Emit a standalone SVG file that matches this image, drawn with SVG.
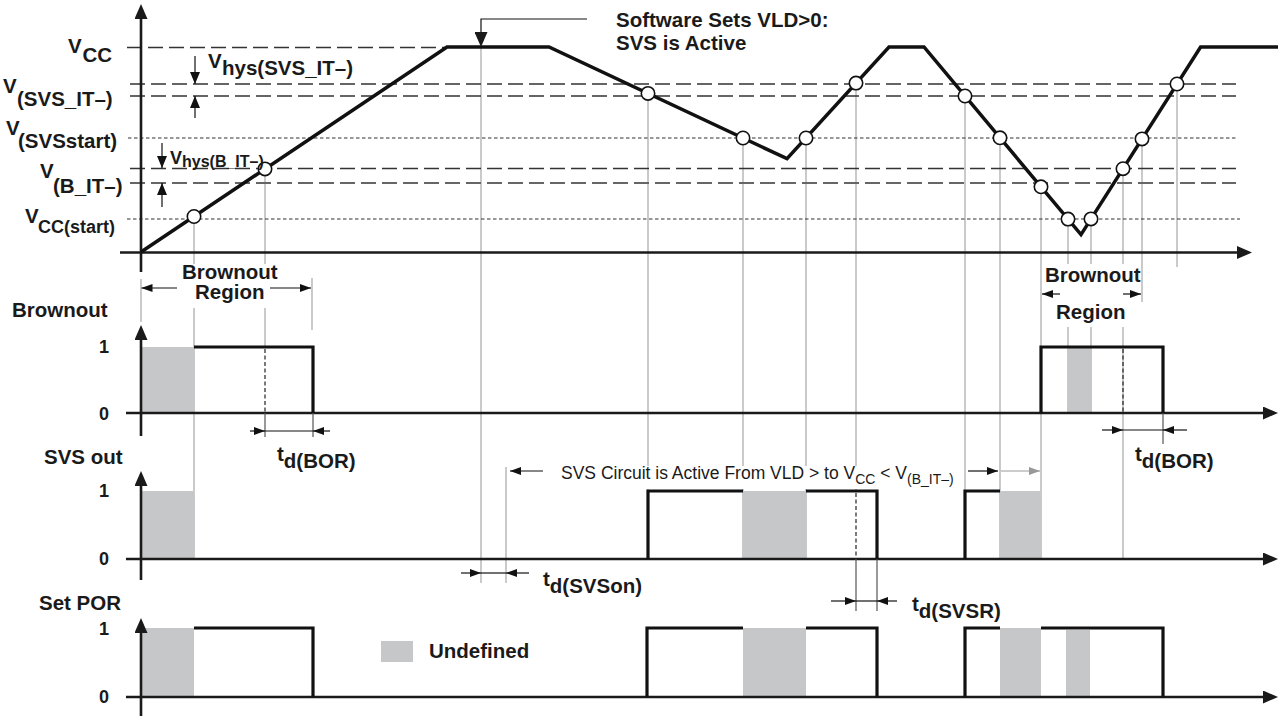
<svg xmlns="http://www.w3.org/2000/svg" width="1278" height="716" viewBox="0 0 1278 716">
<style>
.lb{font-family:"Liberation Sans",Arial,sans-serif;font-weight:bold;font-size:20.5px;fill:#1a1a1a}
.dg{font-family:"Liberation Sans",Arial,sans-serif;font-weight:bold;font-size:18px;fill:#1a1a1a;text-anchor:middle}
.rg{font-family:"Liberation Sans",Arial,sans-serif;font-size:17.5px;fill:#1a1a1a}
.ax{stroke:#1a1a1a;stroke-width:2.6;fill:none}
.sig{stroke:#111;stroke-width:3.2;fill:none;stroke-linejoin:miter}
.wave{stroke:#111;stroke-width:3.5;fill:none;stroke-linejoin:miter}
.gl{stroke:#c9cacc;stroke-width:2}
.ext{stroke:#555;stroke-width:1.2}
.dim{stroke:#111;stroke-width:1.2;fill:none}
.dsh{stroke:#333;stroke-width:1.3;stroke-dasharray:15 6}
.dsh2{stroke:#666;stroke-width:1.8;stroke-dasharray:15 6}
.dot{stroke:#333;stroke-width:1.1;stroke-dasharray:3.5 2.5}
.vd{stroke:#222;stroke-width:1.2;stroke-dasharray:4 2.5}
.und{fill:#c6c7c9}
.pt{fill:#fff;stroke:#111;stroke-width:1.6}
.bg{fill:#fff}
</style>
<defs>
<marker id="axh" viewBox="0 0 15 13" refX="7" refY="6.5" markerWidth="15" markerHeight="13" markerUnits="userSpaceOnUse" orient="auto"><path d="M0,0L15,6.5L0,13z" fill="#1a1a1a"/></marker>
<marker id="ah" viewBox="0 0 11 8" refX="11" refY="4" markerWidth="11" markerHeight="8" markerUnits="userSpaceOnUse" orient="auto"><path d="M0,0L11,4L0,8z" fill="#111"/></marker>
<marker id="ahg" viewBox="0 0 11 8" refX="11" refY="4" markerWidth="11" markerHeight="8" markerUnits="userSpaceOnUse" orient="auto"><path d="M0,0L11,4L0,8z" fill="#999"/></marker>
<marker id="hy" viewBox="0 0 12 10" refX="12" refY="5" markerWidth="12" markerHeight="10" markerUnits="userSpaceOnUse" orient="auto"><path d="M0,0L12,5L0,10z" fill="#111"/></marker>
</defs>

<g id="guides">
<line class="gl" x1="141" y1="279" x2="141" y2="322"/>
<line class="gl" x1="194" y1="217" x2="194" y2="559"/>
<line class="gl" x1="265" y1="169" x2="265" y2="347"/>
<line class="gl" x1="312" y1="278" x2="312" y2="330"/>
<line class="gl" x1="481" y1="47" x2="481" y2="583"/>
<line class="gl" x1="506" y1="467" x2="506" y2="583"/>
<line class="gl" x1="648" y1="93" x2="648" y2="559"/>
<line class="gl" x1="743" y1="138" x2="743" y2="559"/>
<line class="gl" x1="806" y1="138" x2="806" y2="559"/>
<line class="gl" x1="856" y1="83" x2="856" y2="491"/>
<line class="gl" x1="965" y1="96" x2="965" y2="559"/>
<line class="gl" x1="1000" y1="138" x2="1000" y2="559"/>
<line class="gl" x1="1041" y1="187" x2="1041" y2="559"/>
<line class="gl" x1="1068" y1="219" x2="1068" y2="413"/>
<line class="gl" x1="1091" y1="219" x2="1091" y2="413"/>
<line class="gl" x1="1123" y1="169" x2="1123" y2="559"/>
<line class="gl" x1="1142" y1="139" x2="1142" y2="302"/>
<line class="gl" x1="1177" y1="84" x2="1177" y2="267"/>
</g>

<g id="levels">
<line class="dsh" x1="127" y1="47.5" x2="447" y2="47.5"/>
<line class="dsh" x1="130" y1="84" x2="1236" y2="84"/>
<line class="dsh" x1="130" y1="96" x2="1236" y2="96"/>
<line class="dot" x1="128" y1="138" x2="1238" y2="138"/>
<line class="dsh" x1="130" y1="168.5" x2="1236" y2="168.5"/>
<line class="dsh2" x1="130" y1="183" x2="1236" y2="183"/>
<line class="dot" x1="127" y1="219" x2="1240" y2="219"/>
</g>

<g id="label-backgrounds">
<rect class="bg" x="178" y="264" width="96" height="44"/>
<rect class="bg" x="1044" y="264" width="95" height="63"/>
<rect class="bg" x="548" y="466" width="412" height="23"/>
</g>

<g id="undefined-regions">
<rect class="und" x="141" y="347" width="53" height="66"/>
<rect class="und" x="1068" y="347" width="24" height="66"/>
<rect class="und" x="141" y="491" width="53" height="68"/>
<rect class="und" x="743" y="491" width="63" height="68"/>
<rect class="und" x="1000" y="491" width="41" height="68"/>
<rect class="und" x="141" y="628" width="53" height="69"/>
<rect class="und" x="743" y="628" width="63" height="69"/>
<rect class="und" x="1000" y="628" width="41" height="69"/>
<rect class="und" x="1066" y="630" width="24" height="67"/>
</g>

<g id="axes">
<line class="ax" x1="141" y1="272" x2="141" y2="12" marker-end="url(#axh)"/>
<line class="ax" x1="120" y1="252.5" x2="1244" y2="252.5" marker-end="url(#axh)"/>
<line class="ax" x1="141" y1="436" x2="141" y2="333" marker-end="url(#axh)"/>
<line class="ax" x1="126" y1="413" x2="1270" y2="413" marker-end="url(#axh)"/>
<line class="ax" x1="141" y1="580" x2="141" y2="479" marker-end="url(#axh)"/>
<line class="ax" x1="126" y1="559" x2="1270" y2="559" marker-end="url(#axh)"/>
<line class="ax" x1="141" y1="716" x2="141" y2="626" marker-end="url(#axh)"/>
<line class="ax" x1="126" y1="697" x2="1270" y2="697" marker-end="url(#axh)"/>
</g>

<g id="vcc-waveform">
<polyline class="wave" points="141,252 447,47 549,47 787,158.7 889,47 924,47 1081,234.6 1200.6,47 1278,47"/>
<circle class="pt" cx="194" cy="216.5" r="6.7"/>
<circle class="pt" cx="265" cy="168.9" r="6.7"/>
<circle class="pt" cx="648" cy="93.4" r="6.7"/>
<circle class="pt" cx="743" cy="138" r="6.7"/>
<circle class="pt" cx="806" cy="138" r="6.7"/>
<circle class="pt" cx="856" cy="83.1" r="6.7"/>
<circle class="pt" cx="965" cy="96" r="6.7"/>
<circle class="pt" cx="1000" cy="137.8" r="6.7"/>
<circle class="pt" cx="1041" cy="186.8" r="6.7"/>
<circle class="pt" cx="1068" cy="219.1" r="6.7"/>
<circle class="pt" cx="1091" cy="218.9" r="6.7"/>
<circle class="pt" cx="1123" cy="168.7" r="6.7"/>
<circle class="pt" cx="1142" cy="138.9" r="6.7"/>
<circle class="pt" cx="1177" cy="84" r="6.7"/>
</g>

<g id="signals">
<path class="sig" d="M194,347H313V413"/>
<path class="sig" d="M1041,413V347H1163V413"/>
<path class="sig" d="M648,559V491H743"/>
<path class="sig" d="M806,491H877V559"/>
<path class="sig" d="M965,559V491H1000"/>
<path class="sig" d="M194,628H313V697"/>
<path class="sig" d="M647,697V628H743"/>
<path class="sig" d="M806,628H877V697"/>
<path class="sig" d="M965,697V628H1000"/>
<path class="sig" d="M1041,628H1163V697"/>
<line class="vd" x1="265" y1="349" x2="265" y2="413"/>
<line class="vd" x1="1123" y1="349" x2="1123" y2="413"/>
<line class="vd" x1="856" y1="493" x2="856" y2="559"/>
</g>

<g id="connectors">
<path class="dim" d="M587,19H481V39" marker-end="url(#axh)"/>
<line class="dim" x1="195" y1="56" x2="195" y2="84" marker-end="url(#hy)"/>
<line class="dim" x1="195" y1="118" x2="195" y2="96" marker-end="url(#hy)"/>
<line class="dim" x1="162" y1="143" x2="162" y2="168" marker-end="url(#hy)"/>
<line class="dim" x1="162" y1="207" x2="162" y2="183" marker-end="url(#hy)"/>
<line class="dim" x1="177" y1="288" x2="141.5" y2="288" marker-end="url(#ah)"/>
<line class="dim" x1="270" y1="288" x2="311" y2="288" marker-end="url(#ah)"/>
<line class="dim" x1="1060" y1="294" x2="1042" y2="294" marker-end="url(#ah)"/>
<line class="dim" x1="1123" y1="294" x2="1141" y2="294" marker-end="url(#ah)"/>
<line class="ext" x1="265" y1="413" x2="265" y2="437"/>
<line class="ext" x1="313" y1="413" x2="313" y2="437"/>
<line class="dim" x1="250" y1="431" x2="265" y2="431" marker-end="url(#ah)"/>
<line class="dim" x1="330" y1="431" x2="313" y2="431" marker-end="url(#ah)"/>
<line class="dim" x1="265" y1="431" x2="313" y2="431"/>
<line class="ext" x1="1163" y1="413" x2="1163" y2="444"/>
<line class="dim" x1="1102" y1="430" x2="1123" y2="430" marker-end="url(#ah)"/>
<line class="dim" x1="1187" y1="430" x2="1163" y2="430" marker-end="url(#ah)"/>
<line class="dim" x1="1123" y1="430" x2="1163" y2="430"/>
<line class="dim" x1="543" y1="471" x2="510" y2="471" marker-end="url(#ah)"/>
<line class="dim" x1="968" y1="471" x2="998" y2="471" marker-end="url(#ah)"/>
<line x1="1001" y1="471" x2="1040" y2="471" stroke="#999" stroke-width="1.2" marker-end="url(#ahg)"/>
<line class="dim" x1="461" y1="573" x2="481" y2="573" marker-end="url(#ah)"/>
<line class="dim" x1="529" y1="573" x2="506" y2="573" marker-end="url(#ah)"/>
<line class="dim" x1="481" y1="573" x2="506" y2="573"/>
<line class="ext" x1="856" y1="559" x2="856" y2="611"/>
<line class="ext" x1="877" y1="559" x2="877" y2="611"/>
<line class="dim" x1="831" y1="601" x2="856" y2="601" marker-end="url(#ah)"/>
<line class="dim" x1="897" y1="601" x2="877" y2="601" marker-end="url(#ah)"/>
<line class="dim" x1="856" y1="601" x2="877" y2="601"/>
</g>

<g id="level-labels">
<text class="lb"><tspan x="68" y="53">V</tspan><tspan x="82.5" y="62">CC</tspan></text>
<text class="lb"><tspan x="3" y="93">V</tspan><tspan x="17" y="106">(SVS_IT–)</tspan></text>
<text class="lb"><tspan x="6" y="135">V</tspan><tspan x="18" y="148">(SVSstart)</tspan></text>
<text class="lb"><tspan x="40" y="178">V</tspan><tspan x="53" y="193">(B_IT–)</tspan></text>
<text class="lb"><tspan x="25" y="223">V</tspan><tspan x="38" y="233" style="font-size:18px">CC(start)</tspan></text>
<text class="lb"><tspan x="208" y="68">V</tspan><tspan x="222" y="75">hys(SVS_IT–)</tspan></text>
<text class="lb" style="font-size:18px"><tspan x="170" y="164">V</tspan><tspan x="182" y="166.5" style="font-size:16px">hys(B_IT–)</tspan></text>
</g>

<g id="annotation">
<text class="lb"><tspan x="616" y="27">Software Sets VLD&gt;0:</tspan><tspan x="616" y="50">SVS is Active</tspan></text>
</g>

<g id="signal-labels">
<text class="lb" x="12" y="317">Brownout</text>
<text class="lb" x="44" y="464">SVS out</text>
<text class="lb" x="39" y="610">Set POR</text>
<text class="dg" x="104" y="353">1</text>
<text class="dg" x="104" y="420">0</text>
<text class="dg" x="104" y="497">1</text>
<text class="dg" x="104" y="565">0</text>
<text class="dg" x="104" y="635">1</text>
<text class="dg" x="104" y="703">0</text>
</g>

<g id="region-labels">
<text class="lb"><tspan x="182" y="279">Brownout</tspan><tspan x="195" y="299">Region</tspan></text>
<text class="lb"><tspan x="1045" y="282">Brownout</tspan><tspan x="1056" y="319">Region</tspan></text>
</g>

<g id="timing-labels">
<text class="lb" x="277" y="461">t<tspan dy="7">d(BOR)</tspan></text>
<text class="lb" x="1135" y="461">t<tspan dy="7">d(BOR)</tspan></text>
<text class="lb" x="543" y="586">t<tspan dy="7">d(SVSon)</tspan></text>
<text class="lb" x="912" y="611">t<tspan dy="7">d(SVSR)</tspan></text>
<text class="rg" x="561" y="479">SVS Circuit is Active From VLD &gt; to V<tspan dy="5" style="font-size:14px">CC</tspan><tspan dy="-5"> &lt; V</tspan><tspan dy="5" style="font-size:14px">(B_IT–)</tspan></text>
</g>

<g id="legend">
<rect class="und" x="381" y="641" width="32" height="21"/>
<text class="lb" x="429" y="658">Undefined</text>
</g>
</svg>
